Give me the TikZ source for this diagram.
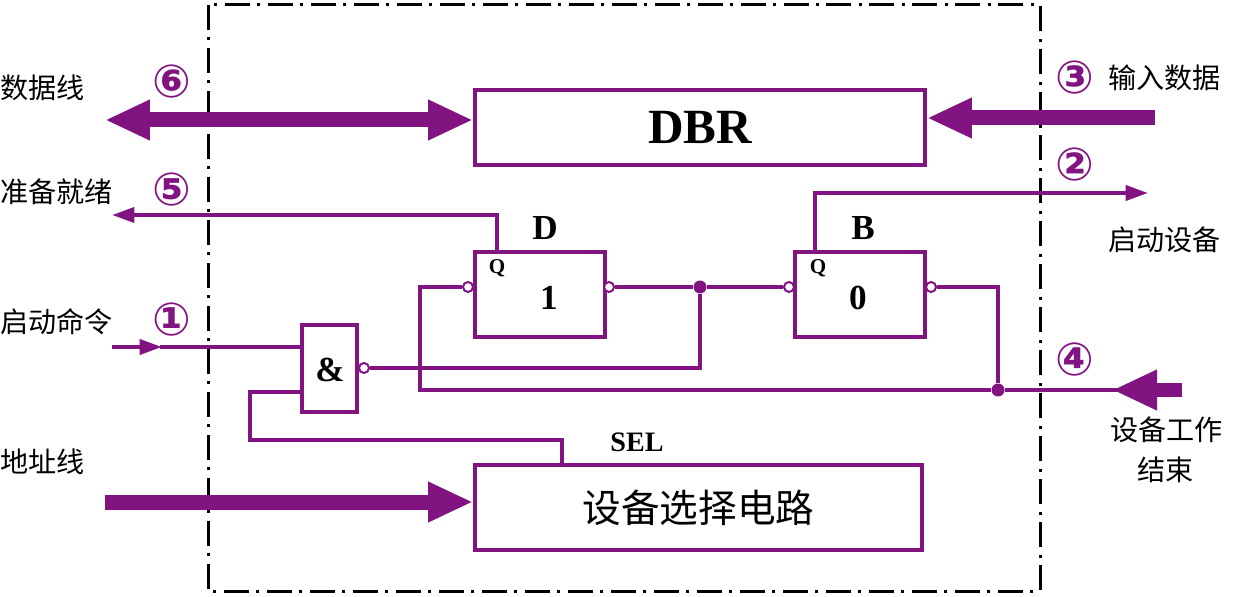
\documentclass[tikz,border=0pt]{standalone}
\usepackage{fontspec}
\setmainfont{Liberation Serif}
\newfontfamily\cjk{Noto Sans CJK SC}
\newfontfamily\dvs{DejaVu Sans}
\usetikzlibrary{arrows.meta}
\definecolor{pu}{RGB}{130,20,130}
\begin{document}
\begin{tikzpicture}[x=0.02cm,y=-0.02cm,
  box/.style={draw=pu,line width=0.08cm,inner sep=0pt,fill=white},
  thin/.style={draw=pu,line width=0.08cm},
  thick/.style={draw=pu,line width=0.3cm},
  bub/.style={circle,draw=pu,fill=white,line width=0.04cm,minimum size=0.2cm,inner sep=0pt},
  dot/.style={circle,fill=pu,minimum size=0.26cm,inner sep=0pt},
  big/.style={-{Triangle[length=0.9cm,width=0.75cm]}},
  sm/.style={-{Triangle[length=0.45cm,width=0.3cm]}},
  lab/.style={font=\cjk\fontsize{16}{18}\selectfont,inner sep=0pt},
  num/.style={font=\dvs\bfseries\fontsize{26}{26}\selectfont,text=pu,inner sep=0pt},
  bl/.style={font=\bfseries\fontsize{17}{18}\selectfont,inner sep=0pt}]
\useasboundingbox (0,0) rectangle (1246,597);
\fill[white] (0,0) rectangle (1246,597);
\draw[line width=0.06cm,dash pattern=on 0.5cm off 0.15cm on 0.06cm off 0.15cm] (208,5) rectangle (1040,591);
% boxes
\node[box,minimum width=9cm,minimum height=1.5cm,font=\bfseries\fontsize{28}{30}\selectfont] (dbr) at (700,127.5) {DBR};
\node[box,minimum width=2.6cm,minimum height=1.7cm] (D) at (540,294.5) {};
\node[box,minimum width=2.6cm,minimum height=1.7cm] (B) at (860,294.5) {};
\node[box,minimum width=1.1cm,minimum height=1.74cm] (and) at (329.5,368.5) {};
\node[box,minimum width=8.94cm,minimum height=1.7cm,font=\cjk\fontsize{22}{24}\selectfont] (sel) at (698.5,507.5) {设备选择电路};
\node[bl] (q1) at (497,268) {\fontsize{12}{12}\selectfont Q};
\node[bl,font=\bfseries\fontsize{20}{20}\selectfont] (one) at (549,298) {1};
\node[bl] (q2) at (818,268) {\fontsize{12}{12}\selectfont Q};
\node[bl,font=\bfseries\fontsize{20}{20}\selectfont] (zero) at (858,298) {0};
\node[bl,font=\bfseries\fontsize{20}{20}\selectfont] (dl) at (545,228) {D};
\node[bl,font=\bfseries\fontsize{20}{20}\selectfont] (bl) at (863,228) {B};
\node[bl,font=\bfseries\fontsize{20}{20}\selectfont] (amp) at (330,370) {\&};
\node[bl,font=\bfseries\fontsize{16}{16}\selectfont] (sl) at (637,442) {SEL};
% bubbles and dots
\node[bub] (dout) at (609,287) {};
\node[bub] (din) at (468,287) {};
\node[bub] (bin) at (789,287) {};
\node[bub] (bout) at (931,287) {};
\node[bub] (aout) at (364,368) {};
\node[dot] (j1) at (700,287) {};
\node[dot] (j2) at (998,390) {};
% labels
\node[lab,anchor=west] (t1) at (0,88) {数据线};
\node[num] (n6) at (172,82) {⑥};
\node[num] (n3) at (1075,78) {③};
\node[lab,anchor=west] (t3) at (1108,78) {输入数据};
\node[lab,anchor=west] (t5) at (0,192) {准备就绪};
\node[num] (n5) at (172,190) {⑤};
\node[num] (n2) at (1075,165) {②};
\node[lab,anchor=west] (t2) at (1108,240) {启动设备};
\node[lab,anchor=west] (t4c) at (0,322) {启动命令};
\node[num] (n1) at (172,320) {①};
\node[num] (n4) at (1075,360) {④};
\node[lab,anchor=west] (t4) at (1110,430) {设备工作};
\node[lab,anchor=west] (t4b) at (1137,470) {结束};
\node[lab,anchor=west] (ta) at (0,462) {地址线};
% coordinates
\coordinate (dl1) at (105,120);
\coordinate (ir) at (1155,118);
\coordinate (rdy) at (112,215);
\coordinate (st) at (1148,193);
\coordinate (cmd) at (112,347);
\coordinate (endp) at (1182,390);
\coordinate (addr) at (105,502);
% thick arrows
\draw[thick,{Triangle[length=0.9cm,width=0.75cm]}-{Triangle[length=0.9cm,width=0.75cm]}] (dl1) -- (dbr.west|-dl1);
\draw[thick,big] (ir) -- (dbr.east|-ir);
\draw[thick,big] (addr) -- (sel.west|-addr);
% thin wires
\draw[thin,sm] (497,252) -- (497,215) -- (rdy);
\draw[thin,sm] (815,252) -- (815,193) -- (st);
\draw[thin] (dout) -- (j1) -- (bin);
\draw[thin] (j1) -- (700,368) -- (aout);
\draw[thin] (din) -- (420,287) -- (420,390) -- (j2);
\draw[thin] (bout) -- (998,287) -- (j2);
\draw[thin] (j2) -- (1120,390);
\draw[thick,big] (endp) -- (1112,390);
\draw[thin,sm] (cmd) -- (162,347);
\draw[thin] (160,347) -- (and.west|-cmd);
\draw[thin] (and.west|-0,392) -- (250,392) -- (250,440) -- (562,440) -- (sel.north-|562,0);
\end{tikzpicture}
\end{document}
